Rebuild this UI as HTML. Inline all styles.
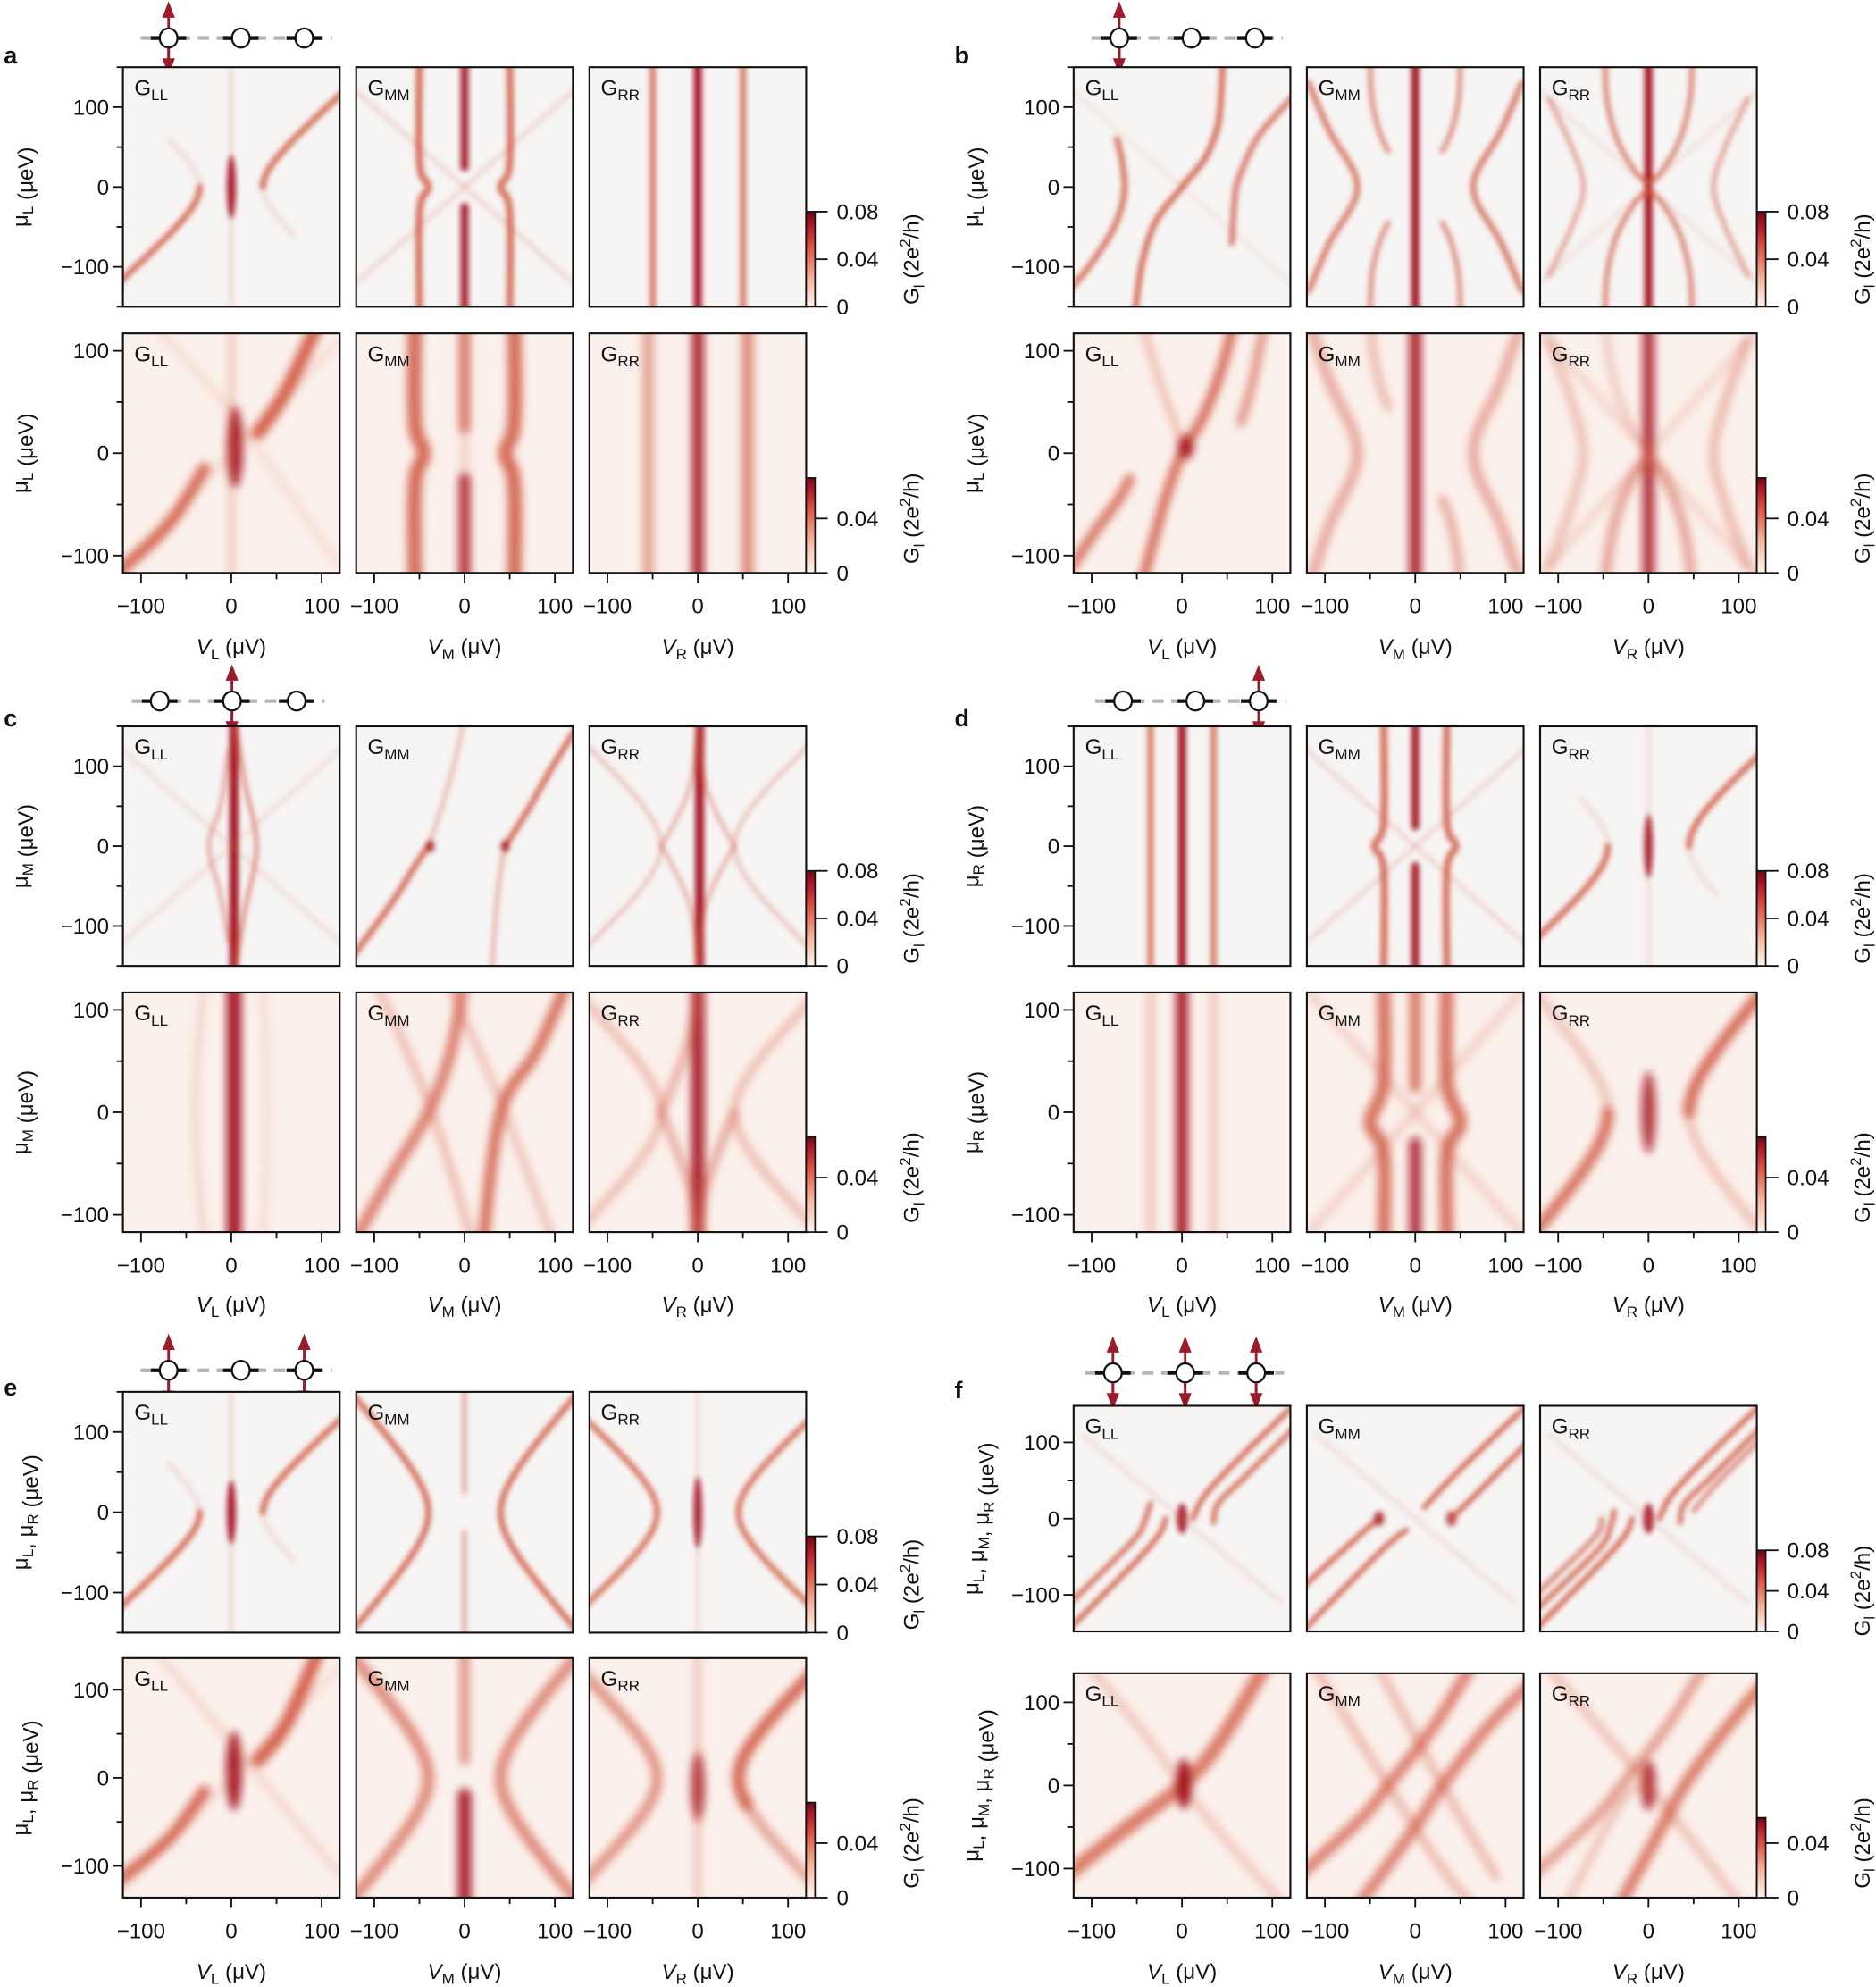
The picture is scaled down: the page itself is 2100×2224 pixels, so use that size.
<!DOCTYPE html>
<html><head><meta charset="utf-8">
<style>html,body{margin:0;padding:0;background:#fff}svg{display:block}</style>
</head><body>
<svg id="s" xmlns="http://www.w3.org/2000/svg" width="2100" height="2224" viewBox="0 0 1480 1567.5" preserveAspectRatio="none" font-family="Liberation Sans, DejaVu Sans, sans-serif">
<defs>
<filter id="b1" x="-20%" y="-20%" width="140%" height="140%"><feGaussianBlur stdDeviation="2.1"/></filter>
<filter id="b2" x="-20%" y="-20%" width="140%" height="140%"><feGaussianBlur stdDeviation="3.4"/></filter>
<linearGradient id="cb" x1="0" y1="1" x2="0" y2="0">
<stop offset="0" stop-color="#fff5f0"/><stop offset="0.3" stop-color="#f4b39c"/><stop offset="0.6" stop-color="#de5b48"/><stop offset="0.85" stop-color="#b2182b"/><stop offset="1" stop-color="#6d0a14"/></linearGradient>
<linearGradient id="cb2" x1="0" y1="1" x2="0" y2="0">
<stop offset="0" stop-color="#fff5f0"/><stop offset="0.35" stop-color="#f4b39c"/><stop offset="0.65" stop-color="#de5b48"/><stop offset="0.88" stop-color="#b2182b"/><stop offset="1" stop-color="#6d0a14"/></linearGradient>
</defs>
</svg>
<script>
const NS="http://www.w3.org/2000/svg";
const S=document.getElementById('s');
function el(tag,attrs,parent,txt){const e=document.createElementNS(NS,tag);for(const k in attrs)e.setAttribute(k,attrs[k]);if(txt!==undefined)e.textContent=txt;(parent||S).appendChild(e);return e;}
const D='#a3121c',M='#d0553f',F='#e7a08a';
let cid=0;
function mx(p){return p.map(q=>[-q[0],q[1]]);}
function my(p){return p.map(q=>[q[0],-q[1]]);}
function hyp(a,s,m0,m1,k){k=k||1;const r=[];for(let i=0;i<=30;i++){const m=m0+(m1-m0)*i/30;r.push([s*Math.sqrt(a*a+k*k*m*m),m]);}return r;}
function smooth(pts){ // catmull-rom resample
  const r=[];for(let i=0;i<pts.length-1;i++){const p0=pts[Math.max(0,i-1)],p1=pts[i],p2=pts[i+1],p3=pts[Math.min(pts.length-1,i+2)];
    for(let t=0;t<1;t+=0.125){const t2=t*t,t3=t2*t;
      r.push([0,1].map(k=>0.5*((2*p1[k])+(-p0[k]+p2[k])*t+(2*p0[k]-5*p1[k]+4*p2[k]-p3[k])*t2+(-p0[k]+3*p1[k]-3*p2[k]+p3[k])*t3)));}}
  r.push(pts[pts.length-1]);return r;}
function panel(x0,y0,w,h,ym,bot,feats,title){
  const X=v=>x0+w/2+v*(w/240), Y=m=>y0+h/2-m*(h/2/ym);
  cid++;
  const cp=el('clipPath',{id:'c'+cid});el('rect',{x:x0,y:y0,width:w,height:h},cp);
  el('rect',{x:x0,y:y0,width:w,height:h,fill:bot?'#fbf1ec':'#f6f5f4'});
  const g=el('g',{'clip-path':'url(#c'+cid+')'});
  const g2=el('g',{filter:bot?'url(#b2)':'url(#b1)'},g);
  for(const f of feats){
    if(f[0]==='p'){const [_,pts0,sw,c,op]=f;const pts=pts0.length>2?smooth(pts0):pts0;
      el('polyline',{points:pts.map(p=>X(p[0]).toFixed(1)+','+Y(p[1]).toFixed(1)).join(' '),fill:'none',stroke:c,'stroke-width':sw*w/240,'stroke-opacity':op,'stroke-linecap':'round','stroke-linejoin':'round'},g2);}
    else if(f[0]==='e'){const [_,v,m,rx,ry,c,op]=f;
      el('ellipse',{cx:X(v),cy:Y(m),rx:rx*w/240,ry:ry*h/2/ym,fill:c,'fill-opacity':op},g2);}
  }
  el('rect',{x:x0,y:y0,width:w,height:h,fill:'none',stroke:'#111','stroke-width':1.5});
  const t=el('text',{x:x0+9,y:y0+22,'font-size':17,fill:'#111'},null,'G');
  el('tspan',{'font-size':12,dy:4},t,title);
}
function V(v,sw,c,op,m0,m1){return ['p',[[v,m0===undefined?-200:m0],[v,m1===undefined?200:m1]],sw,c,op];}
function P(pts,sw,c,op){return ['p',pts,sw,c,op];}
function H(a,s,m0,m1,sw,c,op,k){return ['p',hyp(a,s,m0,m1,k),sw,c,op];}
function E(v,m,rx,ry,c,op){return ['e',v,m,rx,ry,c,op];}

const aT=[
 [V(0,4,M,.2),E(0,0,5,40,D,.9),H(35,-1,-150,0,7,M,.8),H(35,-1,0,60,6,M,.15),H(35,1,0,150,7,M,.8),H(35,1,-60,0,6,M,.15)],
 [P([[-130,-130],[130,130]],5,M,.2),P([[-130,130],[130,-130]],5,M,.2),P([[-50,-160],[-50,-30],[-40,0],[-50,30],[-50,160]],8,M,.8),P(mx([[-50,-160],[-50,-30],[-40,0],[-50,30],[-50,160]]),8,M,.8),V(0,9,D,.9,-200,-25),V(0,9,D,.9,25,200)],
 [V(-50,7,M,.75),V(0,9,D,.95),V(50,7,M,.75)]];
const aB=[
 [P([[-130,-120],[-70,-70],[-30,-15]],13,M,.85),P([[30,20],[60,60],[95,125]],15,M,.9),E(4,6,9,40,D,.9),V(0,8,M,.25),P([[-120,-110],[120,110]],8,M,.15),P([[-80,120],[0,40],[80,-60],[120,-110]],8,M,.15)],
 [P([[-55,-130],[-55,-30],[-45,0],[-55,30],[-55,130]],16,M,.85),P(mx([[-55,-130],[-55,-30],[-45,0],[-55,30],[-55,130]]),16,M,.85),V(0,13,D,.85,-200,-25),V(0,13,M,.7,25,200),V(0,10,M,.2)],
 [V(-55,13,M,.5),V(0,13,D,.9),V(55,13,M,.65)]];
const gmmArcL=[[-118,130],[-95,70],[-64,0],[-95,-70],[-118,-130]];
const gmmInL=[[-50,160],[-48,110],[-40,70],[-30,45]];
const grrArcL=[[-110,110],[-85,50],[-72,0],[-85,-50],[-110,-110]];
const grrInL=[[-48,160],[-46,110],[-35,60],[-15,20],[0,5]];
const bT=[
 [P([[-125,-130],[-100,-95],[-75,-50],[-64,-8],[-66,30],[-72,60]],7,M,.75),P([[-52,-160],[-45,-100],[-30,-45],[0,0],[25,35],[38,70],[42,95],[45,150]],7,M,.8),P([[55,-70],[58,-20],[62,8],[80,55],[100,85],[125,115]],7,M,.7),P([[-120,120],[0,0],[120,-120]],5,M,.1)],
 [V(0,9,D,.95),P(gmmArcL,7,M,.7),P(mx(gmmArcL),7,M,.7),P(gmmInL,6,M,.6),P(my(gmmInL),6,M,.6),P(mx(gmmInL),6,M,.6),P(mx(my(gmmInL)),6,M,.6)],
 [V(0,9,D,.95),E(0,8,5,10,D,.9),E(0,-8,5,10,D,.9),P(grrArcL,6,M,.45),P(mx(grrArcL),6,M,.45),P(grrInL,6,M,.65),P(my(grrInL),6,M,.65),P(mx(grrInL),6,M,.65),P(mx(my(grrInL)),6,M,.65),P([[-120,120],[120,-120]],5,M,.12),P([[-120,-120],[120,120]],5,M,.12)]];
const bB=[
 [P([[-125,-115],[-95,-75],[-70,-45],[-58,-25]],11,M,.8),P([[-45,-130],[-30,-80],[-15,-35],[0,0],[20,30],[35,60],[48,95],[58,130]],11,M,.85),E(4,6,9,12,D,.9),P([[-45,130],[-25,70],[0,10]],8,M,.35),P([[65,30],[78,70],[92,130]],10,M,.6)],
 [V(0,13,D,.9),P(gmmArcL,12,M,.45),P(mx(gmmArcL),12,M,.45),P(gmmInL,10,M,.35),P(mx(my(gmmInL)),10,M,.45)],
 [V(0,13,D,.85),P(grrArcL,11,M,.3),P(mx(grrArcL),11,M,.35),P(my(grrInL),11,M,.5),P(mx(my(grrInL)),11,M,.5),P(grrInL,9,M,.25),P([[-120,120],[120,-120]],9,M,.18),P([[-120,-120],[120,120]],9,M,.18)]];
const cT=[
 [V(3,10,D,.95),P([[5,150],[15,80],[28,0],[15,-80],[5,-150]],5,M,.6),P([[-3,120],[-12,50],[-25,0],[-12,-60],[-3,-120]],5,M,.45),P([[-130,130],[130,-130]],5,M,.15),P([[-130,-130],[130,130]],5,M,.15)],
 [P([[-125,-140],[-80,-70],[-55,-25],[-40,0]],7,M,.8),P([[-40,0],[-25,50],[-10,110],[0,160]],6,M,.3),E(-38,0,5,8,D,.7),P([[30,-160],[35,-80],[40,-30],[45,0]],6,M,.35),P([[45,0],[70,45],[95,95],[125,150]],7,M,.8),E(45,0,5,8,D,.7)],
 [V(2,10,D,.95),P([[-125,130],[-40,0],[-125,-130]],5,M,.3),P([[-40,0],[-10,70],[0,150]],5,M,.4),P([[-40,0],[-10,-70],[0,-150]],5,M,.4),P(mx([[-125,130],[-40,0],[-125,-130]]),5,M,.3),P(mx([[-40,0],[-10,70],[0,150]]),5,M,.4),P(mx([[-40,0],[-10,-70],[0,-150]]),5,M,.4)]];
const cB=[
 [V(3,16,D,.95),P([[-30,130],[-40,0],[-30,-130]],8,M,.2),P([[35,130],[40,0],[35,-130]],8,M,.15)],
 [P([[-125,-130],[-80,-60],[-40,0],[-15,60],[0,130]],13,M,.7),P([[20,-130],[40,0],[80,60],[115,130]],13,M,.8),P([[-100,130],[-40,10],[10,-130]],9,M,.35),P([[-20,130],[40,10],[100,-130]],9,M,.3)],
 [V(0,15,D,.9),P([[-125,110],[-40,0],[-125,-110]],9,M,.35),P([[-40,0],[-10,70],[0,130]],9,M,.45),P([[-40,0],[-10,-70],[0,-130]],9,M,.45),P(mx([[-125,110],[-40,0],[-125,-110]]),9,M,.35),P(mx([[-40,0],[-10,-70],[0,-130]]),9,M,.5)]];
const dT=[
 [V(-35,7,M,.75),V(0,9,D,.95),V(35,7,M,.75)],
 [P([[-130,-130],[130,130]],5,M,.2),P([[-130,130],[130,-130]],5,M,.2),P([[-35,-160],[-35,-30],[-45,0],[-35,30],[-35,160]],8,M,.8),P(mx([[-35,-160],[-35,-30],[-45,0],[-35,30],[-35,160]]),8,M,.8),V(0,9,D,.9,-200,-25),V(0,9,D,.9,25,200)],
 [V(0,4,M,.2),E(0,0,5,40,D,.85),H(45,-1,-150,0,7,M,.8),H(45,-1,0,60,6,M,.15),H(45,1,0,150,7,M,.8),H(45,1,-60,0,6,M,.15)]];
const dB=[
 [V(0,13,D,.95),V(-35,10,M,.25),V(35,10,M,.25)],
 [P([[-35,-130],[-35,-40],[-50,-10],[-35,30],[-35,130]],15,M,.8),P(mx([[-35,-130],[-35,-40],[-50,-10],[-35,30],[-35,130]]),15,M,.8),V(0,13,D,.85,-200,-30),V(0,13,M,.75,25,200),P([[-130,-130],[130,130]],10,M,.2),P([[-130,130],[130,-130]],10,M,.2)],
 [E(0,0,8,40,D,.8),H(45,-1,-130,0,13,M,.8),H(45,-1,0,130,10,M,.3),H(45,1,0,130,13,M,.85),H(45,1,-130,0,10,M,.3)]];
const eT=[
 aT[0],
 [H(40,-1,-160,160,7,M,.8,0.8),H(40,1,-160,160,7,M,.8,0.8),V(0,6,M,.4,-200,-25),V(0,6,M,.4,25,200)],
 [V(0,4,M,.2),E(0,0,5,45,D,.85),H(45,-1,-160,160,7,M,.75),H(45,1,-160,160,7,M,.75)]];
const eB=[
 [P([[-130,-120],[-70,-70],[-30,-15]],13,M,.85),P([[30,20],[60,60],[95,140]],15,M,.9),E(3,8,9,45,D,.9),P([[-120,-125],[120,125]],8,M,.15),P([[-80,140],[0,40],[120,-110]],8,M,.18)],
 [V(0,15,D,.9,-200,-20),V(0,11,M,.6,20,200),H(40,-1,-160,160,13,M,.65,0.85),H(40,1,-160,160,13,M,.65,0.85)],
 [E(0,-10,8,40,D,.8),H(45,-1,-160,160,12,M,.6),H(45,1,-30,160,14,M,.85),H(45,1,-160,-30,11,M,.5),V(0,8,M,.3)]];
const fT=[
 [P([[-125,-145],[-50,-55],[-25,-20],[-18,0]],6,M,.85),P([[-125,-112],[-55,-30],[-42,-5],[-35,20]],6,M,.8),P([[12,0],[25,30],[60,75],[125,150]],6,M,.85),P([[35,-5],[40,20],[70,55],[125,120]],6,M,.8),E(0,0,6,20,D,.85),P([[-110,110],[0,0],[110,-110]],5,M,.15)],
 [P([[-125,-148],[-40,-45],[-10,-15]],6,M,.85),P([[-125,-90],[-60,-20],[-40,0]],6,M,.85),E(-40,0,6,10,D,.7),E(40,0,6,10,D,.7),P([[40,0],[70,35],[125,100]],6,M,.85),P([[10,15],[50,65],[125,150]],6,M,.85),P([[-110,110],[0,0],[110,-110]],5,M,.15)],
 [P([[-125,-145],[-50,-55],[-25,-20],[-18,0]],6,M,.85),P([[-125,-120],[-55,-40],[-42,-10],[-38,10]],6,M,.8),P([[-125,-100],[-60,-25],[-52,0]],6,M,.65),P([[12,0],[25,30],[60,75],[125,150]],6,M,.85),P([[35,-5],[40,20],[70,55],[125,120]],6,M,.8),P([[50,10],[75,45],[125,105]],6,M,.6),E(0,0,6,20,D,.85),P([[-110,110],[0,0],[110,-110]],5,M,.15)]];
const fB=[
 [P([[-130,-110],[-60,-50],[0,0],[40,50],[90,140]],16,M,.75),P([[-100,140],[-40,60],[0,0],[60,-80],[110,-140]],10,M,.25),E(2,2,9,30,D,.95)],
 [P([[-130,-110],[-60,-40],[-30,0],[20,70],[60,140]],13,M,.7),P([[-60,-140],[0,-50],[30,0],[80,70],[125,120]],13,M,.7),P([[-110,140],[-30,0],[30,-100],[60,-140]],10,M,.35),P([[-40,140],[30,0],[90,-110]],10,M,.35)],
 [P([[-130,-110],[-60,-40],[-30,0],[20,70],[60,140]],11,M,.55),P([[-30,-140],[10,-60],[40,0],[80,60],[125,120]],13,M,.75),E(0,0,8,30,D,.85),P([[-110,140],[0,0],[100,-140]],10,M,.3),P([[-90,-140],[-30,-20],[0,0]],9,M,.3)]];

const groups=[
 {L:'a',gx:0,tops:[53,189,150],bots:[263,189,117],tk:478,lb:510,sy:30,dots:[133,190,240],act:[0],yl:'L',T:aT,B:aB},
 {L:'b',gx:750,tops:[53,189,150],bots:[263,189,117],tk:478,lb:510,sy:30,dots:[133,190,240],act:[0],yl:'L',T:bT,B:bB},
 {L:'c',gx:0,tops:[573,189,150],bots:[783,189,117],tk:998,lb:1029,sy:553,dots:[126,183,234],act:[1],yl:'M',T:cT,B:cB},
 {L:'d',gx:750,tops:[573,189,150],bots:[783,189,117],tk:998,lb:1029,sy:553,dots:[136,193,243],act:[2],yl:'R',T:dT,B:dB},
 {L:'e',gx:0,tops:[1098,190,150],bots:[1308,189,136],tk:1523,lb:1555,sy:1081,dots:[133,190,240],act:[0,2],yl:'LR',T:eT,B:eB},
 {L:'f',gx:750,tops:[1109,178,148],bots:[1320,177,135],tk:1523,lb:1555,sy:1083,dots:[128,185,241],act:[0,1,2],yl:'LMR',T:fT,B:fB}];
const px=[97,281,465],pw=171,names=['LL','MM','RR'],vn=['L','M','R'];
function ylabel(x,cy,kind){
  const t=el('text',{transform:`translate(${x},${cy}) rotate(-90)`,'text-anchor':'middle','font-size':17,fill:'#111'});
  kind.split('').forEach((p,i)=>{el('tspan',{},t,(i?', ':'')+'μ');el('tspan',{'font-size':12,dy:4},t,p);el('tspan',{dy:-4},t,'');});
  el('tspan',{},t,' (μeV)');
}
function cblabel(x,cy){
  const t=el('text',{transform:`translate(${x},${cy}) rotate(-90)`,'text-anchor':'middle','font-size':17,fill:'#111'});
  el('tspan',{},t,'G');el('tspan',{'font-size':12,dy:4},t,'l');el('tspan',{dy:-4},t,' (2e');
  el('tspan',{'font-size':12,dy:-7},t,'2');el('tspan',{dy:7},t,'/h)');
}
for(const g of groups){
  const gx=g.gx;
  el('text',{x:gx+3,y:g.sy+20,'font-size':19,'font-weight':'bold',fill:'#111'},null,g.L);
  const d=g.dots.map(v=>v+gx), y=g.sy;
  el('line',{x1:d[0]-22,y1:y,x2:d[2]+22,y2:y,stroke:'#b5b5b5','stroke-width':3,'stroke-dasharray':'9,6'});
  d.forEach(v=>{el('line',{x1:v-14,y1:y,x2:v+14,y2:y,stroke:'#111','stroke-width':3});});
  g.act.forEach(i=>{const v=d[i];
    el('line',{x1:v,y1:y-20,x2:v,y2:y+20,stroke:'#9b1b2a','stroke-width':2});
    el('polygon',{points:`${v},${y-29} ${v-5},${y-16} ${v+5},${y-16}`,fill:'#9b1b2a'});
    el('polygon',{points:`${v},${y+29} ${v-5},${y+16} ${v+5},${y+16}`,fill:'#9b1b2a'});});
  d.forEach(v=>{el('ellipse',{cx:v,cy:y,rx:7,ry:7.5,fill:'#fff',stroke:'#111','stroke-width':1.6});});
  g.act.forEach(i=>{const v=d[i];el('line',{x1:v,y1:y+8,x2:v,y2:y+20,stroke:'#9b1b2a','stroke-width':2});});
  [[g.tops,g.T,false],[g.bots,g.B,true]].forEach(([r,feats,bot])=>{
    const [y0,h,ym]=r;
    for(let j=0;j<3;j++) panel(px[j]+gx,y0,pw,h,ym,bot,feats[j],names[j]);
    const x0=px[0]+gx, Y=m=>y0+h/2-m*(h/2/ym);
    for(let m=-150;m<=150;m+=50){ if(Math.abs(m)>ym+0.5)continue; const yy=Y(m); const maj=(m%100===0);
      el('line',{x1:x0-(maj?8:5),y1:yy,x2:x0,y2:yy,stroke:'#111','stroke-width':1.3});
      if(maj) el('text',{x:x0-11,y:yy+6,'text-anchor':'end','font-size':17,fill:'#111'},null,m<0?'−'+(-m):String(m));}
    ylabel(gx+22,y0+h/2,g.yl);
    const cx=636+gx, yb=y0+h, top=y0+114;
    el('rect',{x:cx,y:top,width:7,height:yb-top,fill:bot?'url(#cb2)':'url(#cb)',stroke:'#111','stroke-width':1.2});
    const ticks=bot?[[0,yb],[0.04,yb-43]]:[[0,yb],[0.04,(yb+top)/2],[0.08,top]];
    ticks.forEach(([v,yy])=>{el('line',{x1:cx+7,y1:yy,x2:cx+17,y2:yy,stroke:'#111','stroke-width':1.3});
      el('text',{x:cx+24,y:yy+6,'font-size':17,fill:'#111'},null,v===0?'0':v.toFixed(2));});
    cblabel(gx+725,bot?yb-43:(top+yb)/2);
  });
  const [y0,h]=g.bots, yb=y0+h;
  for(let j=0;j<3;j++){const x0=px[j]+gx,X=v=>x0+pw/2+v*(pw/240);
    for(let v=-100;v<=100;v+=50){const maj=v%100===0;
      el('line',{x1:X(v),y1:yb,x2:X(v),y2:yb+(maj?8:5),stroke:'#111','stroke-width':1.3});
      if(maj) el('text',{x:X(v),y:g.tk+6,'text-anchor':'middle','font-size':17,fill:'#111'},null,v<0?'−'+(-v):String(v));}
    const t=el('text',{x:x0+pw/2,y:g.lb+6,'text-anchor':'middle','font-size':17,fill:'#111'});
    el('tspan',{'font-style':'italic'},t,'V');el('tspan',{'font-size':12,dy:4},t,vn[j]);el('tspan',{dy:-4},t,' (μV)');
  }
}
</script>
</body></html>
